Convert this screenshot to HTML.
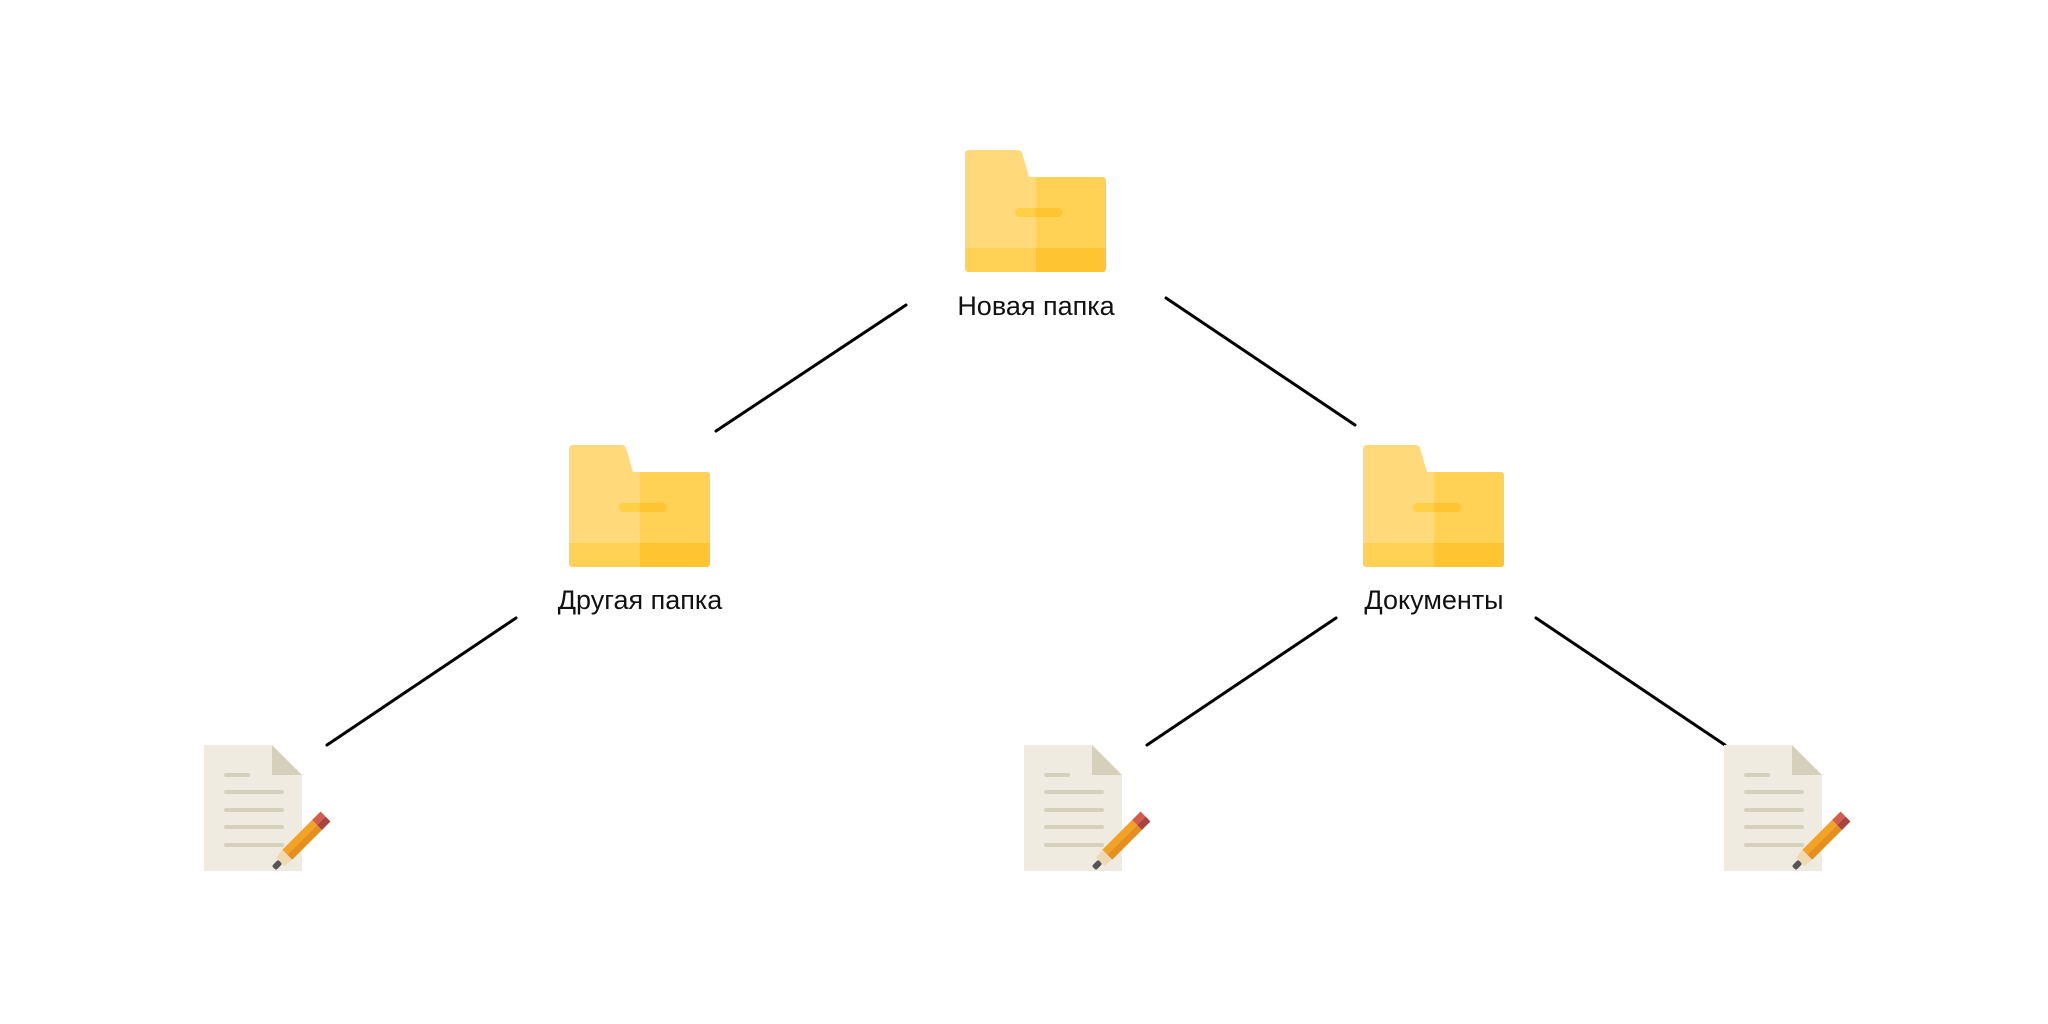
<!DOCTYPE html>
<html><head><meta charset="utf-8"><style>
html,body{margin:0;padding:0;background:#fff;}
svg{display:block}
text{font-family:"Liberation Sans","DejaVu Sans",sans-serif;font-size:27px;fill:#111}
</style></head><body>
<svg width="2048" height="1024" viewBox="0 0 2048 1024" xmlns="http://www.w3.org/2000/svg">
<defs>
<g id="folder">
<path d="M4,0 H52 Q56,0 57,3 L64,27 H137 Q141,27 141,31 V118 Q141,122 137,122 H4 Q0,122 0,118 V4 Q0,0 4,0Z" fill="#FFD97A"/>
<path d="M71,27 H137 Q141,27 141,31 V118 Q141,122 137,122 H71Z" fill="#FFD155"/>
<path d="M0,98 H141 V118 Q141,122 137,122 H4 Q0,122 0,118Z" fill="#FFD155"/>
<path d="M71,98 H141 V118 Q141,122 137,122 H71Z" fill="#FFC431"/>
<rect x="50" y="58" width="48" height="9" rx="4.5" fill="#FFCF45"/>
<path d="M93,58 a4.5,4.5 0 0 1 0,9 H71 V58Z" fill="#FFC431"/>
</g>
<g id="doc">
<path d="M0,0 H68 L98,30 V126 H0Z" fill="#EFEBE0"/>
<path d="M68,0 L98,30 H68Z" fill="#D5D0BB"/>
<g stroke="#D5D0BB" stroke-width="4" stroke-linecap="round">
<line x1="22" y1="30" x2="44" y2="30"/>
<line x1="22" y1="47" x2="78" y2="47"/>
<line x1="22" y1="65" x2="78" y2="65"/>
<line x1="22" y1="82" x2="78" y2="82"/>
<line x1="22" y1="100" x2="78" y2="100"/>
</g>
<g transform="translate(72,121) rotate(-45)">
<rect x="-3" y="-3" width="9" height="6" rx="2" fill="#555"/>
<path d="M6,-6 L16,-7 V7 L6,6Z" fill="#EFD9B5"/>
<rect x="16" y="-7" width="42" height="7" fill="#F4A224"/>
<rect x="16" y="0" width="42" height="7" fill="#E48F1E"/>
<rect x="58" y="-7" width="12" height="7" fill="#D65A4A"/>
<rect x="58" y="0" width="12" height="7" fill="#A94442"/>
</g>
</g>
</defs>
<g stroke="#000" stroke-width="3" stroke-linecap="round">
<line x1="716" y1="431" x2="906" y2="305"/>
<line x1="1166" y1="298" x2="1355" y2="425"/>
<line x1="516" y1="618" x2="327" y2="745"/>
<line x1="1336" y1="618" x2="1147" y2="745"/>
<line x1="1536" y1="618" x2="1725" y2="745"/>
</g>
<use href="#folder" x="965" y="150"/>
<use href="#folder" x="569" y="445"/>
<use href="#folder" x="1363" y="445"/>
<text x="1036" y="315" text-anchor="middle">Новая папка</text>
<text x="640" y="609" text-anchor="middle">Другая папка</text>
<text x="1434" y="609" text-anchor="middle">Документы</text>
<use href="#doc" x="204" y="745"/>
<use href="#doc" x="1024" y="745"/>
<use href="#doc" x="1724" y="745"/>
</svg>
</body></html>
